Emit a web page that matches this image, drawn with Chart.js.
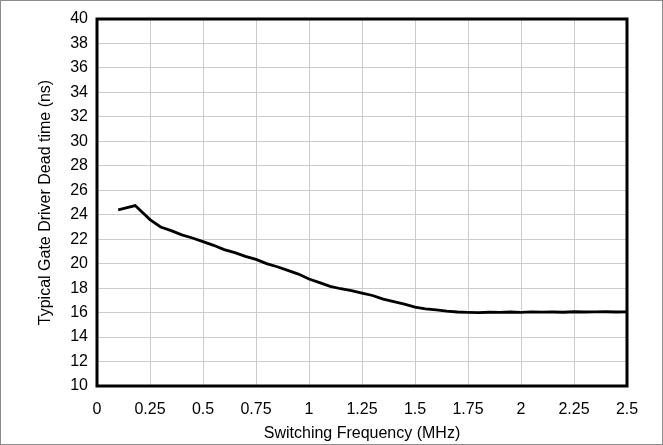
<!DOCTYPE html>
<html>
<head>
<meta charset="utf-8">
<script src="https://cdn.jsdelivr.net/npm/chart.js@4/dist/chart.umd.min.js"></script>
<style>
  html, body { margin: 0; padding: 0; background: #fff; }
  #wrap { width: 663px; height: 445px; }
</style>
</head>
<body>
<div id="wrap"><canvas id="deadtime" width="663" height="445"></canvas></div>
<script>
// switching frequency (MHz) and typical dead time (ns)
var freq = [0.1, 0.18, 0.25, 0.3, 0.35, 0.4, 0.45, 0.5, 0.55, 0.6, 0.65, 0.7, 0.75, 0.8, 0.85, 0.9, 0.95,
  1.0, 1.05, 1.1, 1.15, 1.2, 1.25, 1.3, 1.35, 1.4, 1.45, 1.5, 1.55, 1.6, 1.65, 1.7, 1.75, 1.8, 1.85,
  1.9, 1.95, 2.0, 2.05, 2.1, 2.15, 2.2, 2.25, 2.3, 2.35, 2.4, 2.45, 2.5];
var deadTime = [24.4, 24.75, 23.6, 23.0, 22.7, 22.35, 22.1, 21.8, 21.5, 21.15, 20.9, 20.6, 20.35, 20.0, 19.75, 19.45, 19.15,
  18.75, 18.45, 18.15, 17.95, 17.8, 17.6, 17.4, 17.1, 16.9, 16.7, 16.45, 16.3, 16.22, 16.12, 16.05, 16.02, 16.0, 16.03,
  16.02, 16.05, 16.02, 16.06, 16.04, 16.05, 16.03, 16.07, 16.05, 16.06, 16.07, 16.05, 16.06];
var xTicks = [0, 0.25, 0.5, 0.75, 1, 1.25, 1.5, 1.75, 2, 2.25, 2.5];
var yTicks = [10, 12, 14, 16, 18, 20, 22, 24, 26, 28, 30, 32, 34, 36, 38, 40];

var font = { family: 'Arial, "Liberation Sans", sans-serif', size: 16 };

var frame = {
  id: 'frame',
  afterDraw: function(chart) {
    var ctx = chart.ctx, a = chart.chartArea;
    ctx.save();
    ctx.strokeStyle = '#000';
    ctx.lineWidth = 3;
    ctx.strokeRect(a.left, a.top, a.right - a.left, a.bottom - a.top);
    ctx.strokeStyle = '#8c8c8c';
    ctx.lineWidth = 1;
    ctx.strokeRect(0.5, 0.5, chart.width - 1, chart.height - 1);
    ctx.restore();
  }
};

new Chart(document.getElementById('deadtime'), {
  type: 'line',
  data: {
    datasets: [{
      data: freq.map(function(f, i) { return { x: f, y: deadTime[i] }; }),
      borderColor: '#000',
      borderWidth: 2.8,
      pointRadius: 0,
      tension: 0
    }]
  },
  options: {
    responsive: false,
    animation: false,
    layout: { padding: { top: 19, right: 36, left: 36, bottom: 0 } },
    plugins: { legend: { display: false }, tooltip: { enabled: false } },
    scales: {
      x: {
        type: 'linear',
        min: 0, max: 2.5,
        afterBuildTicks: function(s) { s.ticks = xTicks.map(function(v) { return { value: v }; }); },
        afterFit: function(s) { s.height = 59; },
        grid: { color: '#cccccc', lineWidth: 1, drawTicks: false },
        border: { display: false },
        ticks: {
          color: '#000', font: font, padding: 14, maxRotation: 0, autoSkip: false,
          callback: function(v) { return String(v); }
        },
        title: { display: true, text: 'Switching Frequency (MHz)', color: '#000', font: font, padding: { top: 0, bottom: 2 } }
      },
      y: {
        min: 10, max: 40,
        afterBuildTicks: function(s) { s.ticks = yTicks.map(function(v) { return { value: v }; }); },
        afterFit: function(s) { s.width = 61; },
        grid: { color: '#cccccc', lineWidth: 1, drawTicks: false },
        border: { display: false },
        ticks: { color: '#000', font: font, padding: 9, autoSkip: false },
        title: { display: true, text: 'Typical Gate Driver Dead time (ns)', color: '#000', font: font, padding: { top: 0, bottom: 4 } }
      }
    }
  },
  plugins: [frame]
});
</script>
</body>
</html>
